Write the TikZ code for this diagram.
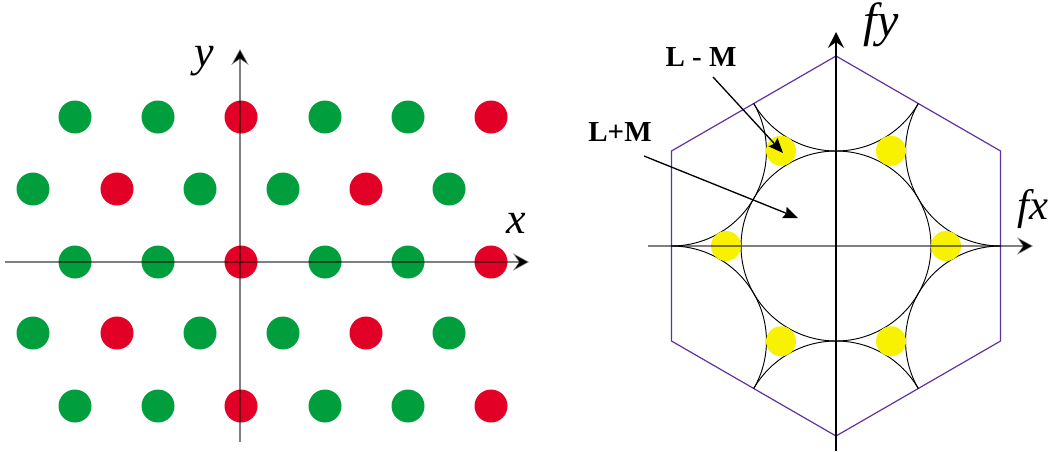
\documentclass[tikz,border=0pt]{standalone}
\usepackage{fontspec}
\setmainfont{Liberation Serif}
\usetikzlibrary{arrows.meta}
\definecolor{dotgreen}{RGB}{0,158,61}
\definecolor{dotred}{RGB}{226,0,38}
\definecolor{dotyellow}{RGB}{248,242,0}
\definecolor{hexpurple}{RGB}{95,50,160}
\tikzset{
  gdot/.style={fill=dotgreen},
  rdot/.style={fill=dotred},
  ydot/.style={fill=dotyellow},
  axisline/.style={line width=1.1pt, draw=black, draw opacity=0.5, -{Stealth[length=12pt,width=13pt,inset=4.5pt]}},
  axisdark/.style={line width=1.1pt, draw=black, -{Stealth[length=12pt,width=12pt,inset=4.5pt]}},
  hexline/.style={draw=hexpurple, line width=0.9pt},
  arcline/.style={draw=black, line width=0.7pt},
  ptr/.style={draw=black, line width=1pt, -{Stealth[length=11pt,width=9pt,inset=1.5pt]}},
  biglabel/.style={inner sep=0pt, anchor=base, font=\fontsize{33}{33}\selectfont\itshape},
  boldlabel/.style={inner sep=0pt, anchor=base, font=\fontsize{21.75}{22}\selectfont\bfseries},
}
\begin{document}
\begin{tikzpicture}[x=0.75pt,y=-0.75pt]
\useasboundingbox (0,0) rectangle (1052,451);
% ---------------- left panel: lattice ----------------
\foreach \yy in {117,262,406}{
  \foreach \xx/\st in {75/gdot,158/gdot,241/rdot,325/gdot,408/gdot,491/rdot}{
    \path[\st] (\xx,\yy) circle (16.5);
  }
}
\foreach \yy in {189,333}{
  \foreach \xx/\st in {33/gdot,117/rdot,200/gdot,283/gdot,366/rdot,449/gdot}{
    \path[\st] (\xx,\yy) circle (16.5);
  }
}
\coordinate (lxfrom) at (5,262);
\coordinate (lxto) at (529,262);
\coordinate (lyfrom) at (240,442);
\coordinate (lyto) at (240,49);
\draw[axisline] (lxfrom) -- (lxto);
\draw[axisline] (lyfrom) -- (lyto);
\node[biglabel] (ylab) at (204,66) {y};
\node[biglabel] (xlab) at (516,233) {x};
% ---------------- right panel: spectrum ----------------
\coordinate (c) at (836,246);
\draw[hexline] (c) ++(90:190) -- ++(-30:190) -- ++(-90:190) -- ++(-150:190) -- ++(150:190) -- ++(90:190) -- cycle;
\begin{scope}
  \clip (c) ++(90:190) -- ++(-30:190) -- ++(-90:190) -- ++(-150:190) -- ++(150:190) -- ++(90:190) -- cycle;
  \foreach \a in {90,30,-30,-90,-150,150}{
    \draw[arcline] (c) ++(\a:190) circle (95);
  }
\end{scope}
\draw[arcline] (c) circle (95);
\foreach \a in {0,60,120,180,240,300}{
  \path[ydot] (c) ++(\a:110) circle (15);
}
\coordinate (fxfrom) at (648,246);
\coordinate (fxto) at (1033,246);
\coordinate (fyfrom) at (836,451);
\coordinate (fyto) at (836,32);
\draw[axisline] (fxfrom) -- (fxto);
\draw[axisdark] (fyfrom) -- (fyto);
\node[biglabel, font=\fontsize{36}{36}\selectfont\itshape] (fylab) at (881,36) {fy};
\node[biglabel, font=\fontsize{32}{32}\selectfont\itshape] (fxlab) at (1033,219) {fx};
\node[boldlabel] (lm) at (701,66) {L - M};
\node[boldlabel] (lpm) at (620,141) {L+M};
\coordinate (lmfrom) at (713,77);
\coordinate (lmtip) at (783,153);
\coordinate (lpmfrom) at (644,156);
\coordinate (lpmtip) at (798,218);
\draw[ptr] (lmfrom) -- (lmtip);
\draw[ptr] (lpmfrom) -- (lpmtip);
\end{tikzpicture}
\end{document}
